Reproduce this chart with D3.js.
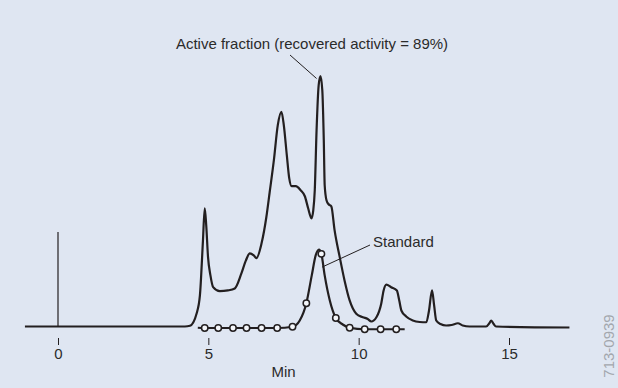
<!DOCTYPE html>
<html>
<head>
<meta charset="utf-8">
<script src="https://cdn.jsdelivr.net/npm/d3@7"></script>
<style>
  html, body { margin: 0; padding: 0; background: #dfe6f2; }
  svg { display: block; font-family: "Liberation Sans", Arial, sans-serif; }
</style>
</head>
<body>
<svg id="chart" width="618" height="388"></svg>
<script>
// ---- Data (time in minutes, relative absorbance) ----
const activeTime = [-1.1, 4.22, 4.39, 4.61, 4.72, 4.82, 4.88, 4.93, 4.99, 5.07, 5.16, 5.38, 5.65, 5.88, 6.10, 6.25, 6.38, 6.51, 6.60, 6.77, 6.93, 7.04, 7.18, 7.31, 7.43, 7.51, 7.61, 7.69, 7.77, 7.91, 8.07, 8.21, 8.32, 8.43, 8.49, 8.54, 8.60, 8.67, 8.73, 8.79, 8.84, 8.87, 8.93, 9.00, 9.09, 9.20, 9.37, 9.53, 9.70, 9.92, 10.14, 10.30, 10.42, 10.59, 10.75, 10.83, 10.92, 11.08, 11.27, 11.35, 11.42, 11.58, 11.80, 12.03, 12.25, 12.34, 12.44, 12.51, 12.58, 12.72, 12.91, 13.09, 13.30, 13.46, 13.69, 14.24, 14.34, 14.41, 14.49, 14.57, 17.01];
const activeValue = [0, 0, 0.3, 5.2, 12.4, 34, 47.2, 40.4, 27.7, 20.4, 15.7, 14.1, 14.4, 15.2, 21.2, 26.4, 29.2, 28.4, 27.3, 33.2, 43.7, 53.6, 66.4, 80.4, 85.7, 80.4, 68.4, 59.2, 56, 56, 54.4, 52, 47.2, 43.2, 46.4, 54.4, 78.4, 96.4, 100, 94.4, 74.4, 56.4, 50.4, 48.8, 48, 38.4, 27.7, 18.4, 10.4, 5.1, 3.7, 3, 2, 3.7, 9.1, 14.4, 16.7, 15.7, 14.4, 10.4, 6.4, 4, 2.4, 1.8, 1.7, 6.4, 14.4, 8.4, 2.4, 1, 0.4, 0.6, 1.3, 0.4, 0, 0, 1.2, 2.4, 1, 0, -0.4];

const standardTime = [4.65, 4.88, 5.33, 5.82, 6.27, 6.77, 7.29, 7.80, 8.04, 8.26, 8.44, 8.57, 8.68, 8.76, 8.87, 9.04, 9.24, 9.47, 9.70, 10.20, 10.73, 11.25, 11.53];
const standardValue = [-0.5, -0.6, -0.6, -0.6, -0.6, -0.6, -0.6, -0.1, 2.4, 9.3, 20.4, 28.4, 30.7, 29.0, 20.4, 10.4, 3.4, 0.8, -0.5, -1.1, -1.1, -1.1, -1.1];

const markerTime = [4.88, 5.33, 5.82, 6.27, 6.77, 7.29, 7.80, 8.26, 8.76, 9.24, 9.70, 10.20, 10.73, 11.25];
const markerValue = [-0.6, -0.6, -0.6, -0.6, -0.6, -0.6, -0.1, 9.3, 29.0, 3.4, -0.5, -1.1, -1.1, -1.1];

const xTicks = [0, 5, 10, 15];
const xLabel = "Min";
const activeLabel = "Active fraction (recovered activity = 89%)";
const standardLabel = "Standard";
const figureCode = "713-0939";

// ---- Scales ----
const svg = d3.select("#chart");
const x = d3.scaleLinear().domain([0, 15]).range([58, 509]);
const y = d3.scaleLinear().domain([0, 100]).range([326.5, 76]);
const ink = "#231f20";

svg.append("rect").attr("width", 618).attr("height", 388).attr("fill", "#dfe6f2");

// injection marker at t = 0
svg.append("line")
  .attr("x1", x(0)).attr("x2", x(0))
  .attr("y1", y(0)).attr("y2", y(37.7))
  .attr("stroke", ink).attr("stroke-width", 1.2);

const line = d3.line()
  .x(d => x(d[0])).y(d => y(d[1]))
  .curve(d3.curveMonotoneX);

const active = d3.zip(activeTime, activeValue);
const standard = d3.zip(standardTime, standardValue);
const markers = d3.zip(markerTime, markerValue);

svg.append("path").datum(active)
  .attr("d", line).attr("fill", "none")
  .attr("stroke", ink).attr("stroke-width", 2.2)
  .attr("stroke-linejoin", "round");

svg.append("path").datum(standard)
  .attr("d", line).attr("fill", "none")
  .attr("stroke", ink).attr("stroke-width", 2.2)
  .attr("stroke-linejoin", "round");

svg.selectAll("circle.mk").data(markers).enter().append("circle")
  .attr("class", "mk")
  .attr("cx", d => x(d[0])).attr("cy", d => y(d[1]))
  .attr("r", 3.2)
  .attr("fill", "#f4f6fa").attr("stroke", ink).attr("stroke-width", 1.5);

// ---- X axis (ticks and labels only) ----
const axis = d3.axisBottom(x).tickValues(xTicks).tickSize(7).tickPadding(3).tickFormat(d3.format("d"));
const gAxis = svg.append("g").attr("transform", "translate(0,338)").call(axis);
gAxis.select(".domain").remove();
gAxis.selectAll(".tick line").attr("stroke", ink).attr("stroke-width", 1);
gAxis.selectAll(".tick text")
  .attr("fill", "#2b2b2b").attr("font-size", 15)
  .attr("font-family", "Liberation Sans, Arial, sans-serif");

svg.append("text")
  .attr("x", x(7.5)).attr("y", 377)
  .attr("text-anchor", "middle").attr("font-size", 15).attr("fill", "#2b2b2b")
  .text(xLabel);

// ---- Annotations ----
svg.append("text")
  .attr("x", 312).attr("y", 49)
  .attr("text-anchor", "middle").attr("font-size", 15).attr("fill", "#2b2b2b")
  .text(activeLabel);
svg.append("line")
  .attr("x1", 290).attr("y1", 55)
  .attr("x2", x(8.6)).attr("y2", y(99))
  .attr("stroke", ink).attr("stroke-width", 1);

svg.append("text")
  .attr("x", 373).attr("y", 247)
  .attr("font-size", 15).attr("fill", "#2b2b2b")
  .text(standardLabel);
svg.append("line")
  .attr("x1", 370).attr("y1", 245)
  .attr("x2", x(8.78)).attr("y2", y(23.7))
  .attr("stroke", ink).attr("stroke-width", 1);

svg.append("text")
  .attr("transform", "translate(614,346) rotate(-90)")
  .attr("text-anchor", "middle").attr("font-size", 15).attr("fill", "#a3a7ad")
  .text(figureCode);
</script>
</body>
</html>
